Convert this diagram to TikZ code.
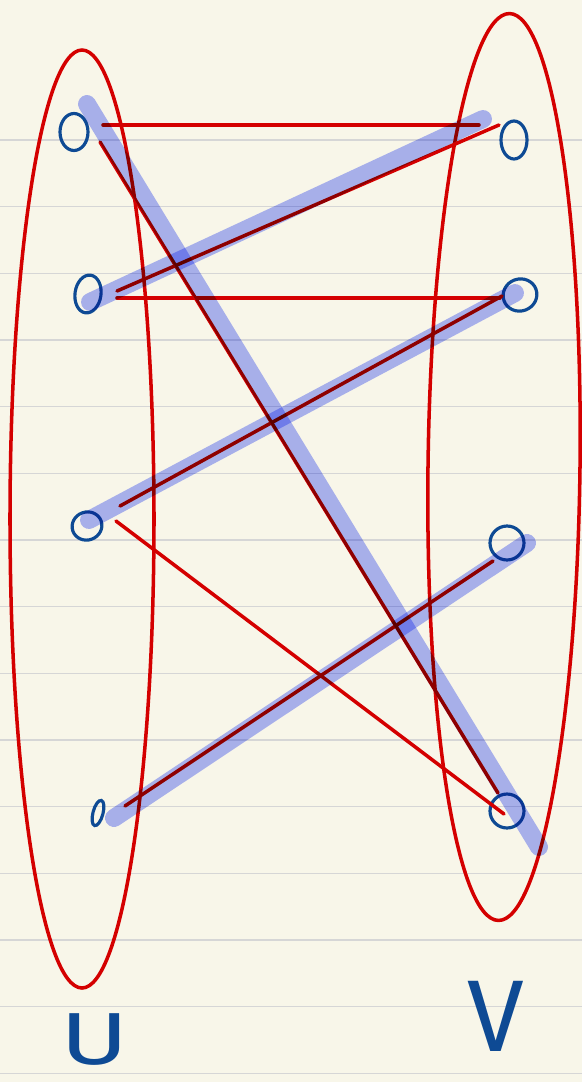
\documentclass[tikz,border=0pt]{standalone}
\usepackage{fontspec}
\setsansfont{Fira Sans}
\usetikzlibrary{shapes.geometric}
\begin{document}
\begin{tikzpicture}[
  x=0.02cm, y=-0.02cm,
  ruling/.style={draw=black!16, line width=0.9pt},
  setring/.style={draw=setred, line width=2pt},
  edge/.style={draw=setred, line width=2pt, line cap=round},
  match/.style={draw=matchblue, line width=10.2pt, line cap=round},
  vtx/.style={ellipse, draw=vtxblue, line width=1.8pt, inner sep=0pt},
  lab/.style={font=\sffamily\fontsize{#1}{#1}\selectfont, text=vtxblue, inner sep=0pt}
]
\definecolor{paper}{RGB}{248,246,233}
\definecolor{setred}{RGB}{212,0,0}
\definecolor{matchblue}{RGB}{172,182,255}
\definecolor{vtxblue}{RGB}{14,74,148}

\fill[paper] (0,0) rectangle (582,1082);
\useasboundingbox (0,0) rectangle (582,1082);
\foreach \k in {0,...,14}
  \draw[ruling] (0,{140+66.667*\k}) -- (582,{140+66.667*\k});

% the two sides
\draw[setring] (82,519) ellipse [x radius=72, y radius=469];
\draw[setring, rotate around={-0.7:(504,467)}] (504,467) ellipse [x radius=76, y radius=453.5];

% vertices
\node[vtx, minimum width=0.56cm, minimum height=0.74cm] (u1) at (74,132) {};
\node[vtx, minimum width=0.52cm, minimum height=0.76cm, rotate=-8] (u2) at (88,294) {};
\node[vtx, minimum width=0.60cm, minimum height=0.56cm, rotate=20] (u3) at (87,526) {};
\node[vtx, minimum width=0.20cm, minimum height=0.52cm, rotate=-15] (u4) at (98,813) {};
\node[vtx, minimum width=0.52cm, minimum height=0.76cm] (v1) at (514,140) {};
\node[vtx, minimum width=0.68cm, minimum height=0.64cm, rotate=20] (v2) at (520,295) {};
\node[vtx, minimum width=0.68cm, minimum height=0.68cm] (v3) at (507,543) {};
\node[vtx, minimum width=0.68cm, minimum height=0.68cm] (v4) at (507,811) {};

% edges
\draw[edge] ([shift={(29,-7)}]u1.center) -- ([shift={(-35,-15)}]v1.center);
\draw[edge] ([shift={(26,10)}]u1.center) -- ([shift={(-9,-18)}]v4.center);
\draw[edge] ([shift={(29,-3)}]u2.center) -- ([shift={(-15,-15)}]v1.center);
\draw[edge] ([shift={(29,4)}]u2.center) -- ([shift={(-20,3)}]v2.center);
\draw[edge] ([shift={(33,-20)}]u3.center) -- ([shift={(-18,1)}]v2.center);
\draw[edge] ([shift={(29,-5)}]u3.center) -- ([shift={(-3,3)}]v4.center);
\draw[edge] ([shift={(27,-7)}]u4.center) -- ([shift={(-14,18)}]v3.center);

% matching
\begin{scope}[blend mode=multiply]
  \draw[match] ([shift={(13,-28)}]u1.center) -- ([shift={(32,36)}]v4.center);
  \draw[match] ([shift={(2,8)}]u2.center) -- ([shift={(-31,-21)}]v1.center);
  \draw[match] ([shift={(2,-6)}]u3.center) -- ([shift={(-5,-2)}]v2.center);
  \draw[match] ([shift={(16,5)}]u4.center) -- ([shift={(20,0)}]v3.center);
\end{scope}

\node[lab=42, xscale=1.4] (setU) at (95,1040) {U};
\node[lab=58] (setV) at (496,1016) {V};
\end{tikzpicture}
\end{document}
